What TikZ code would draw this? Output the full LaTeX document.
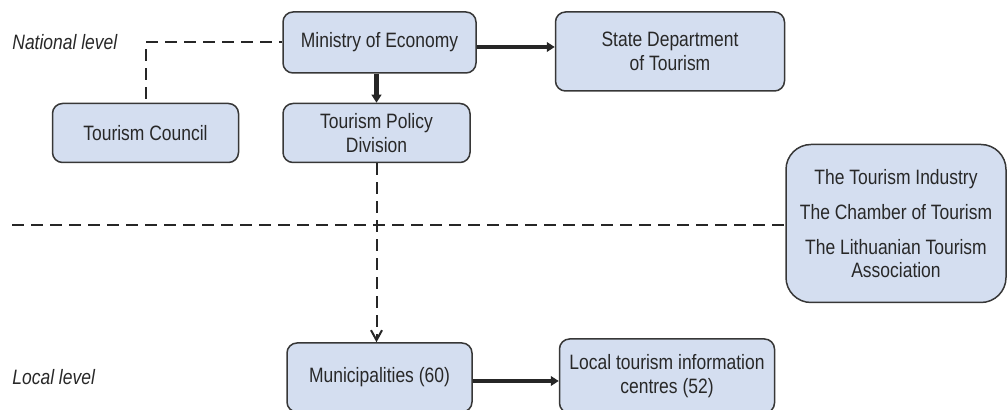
\documentclass[tikz,border=0pt]{standalone}
\usepackage{fontspec}
\setmainfont{Liberation Sans}[FakeStretch=0.84]
\usetikzlibrary{positioning,arrows.meta}
\definecolor{boxfill}{RGB}{212,222,240}
\definecolor{boxline}{RGB}{55,55,55}
\definecolor{txt}{RGB}{40,40,40}
\tikzset{
  unit/.style  ={draw=boxline, fill=boxfill, rounded corners=5pt, line width=0.75pt,
                 align=center, text=txt, inner sep=2pt,
                 font=\fontsize{10.4}{11.7}\selectfont},
  lvl/.style   ={font=\fontsize{10.4}{11.7}\selectfont\itshape, text=txt,
                 anchor=west, inner sep=0pt},
  fl/.style    ={-{Triangle[length=4pt,width=4.8pt]}, line width=2.25pt, draw=black!85},
  dl/.style    ={dash pattern=on 6pt off 3.5pt, line width=1pt, draw=black!85},
  darr/.style  ={dl, -{Straight Barb[length=5pt,width=5.5pt]}}
}

\begin{document}
\begin{tikzpicture}[x=0.5pt, y=-0.5pt]
  \useasboundingbox (0,0) rectangle (1007,410);

  % national level
  \node[unit, minimum width=96.5pt, minimum height=30.5pt] (ministry) at (379.5,42.5) {Ministry of Economy};
  \node[unit, minimum width=114.5pt, minimum height=39.5pt,
        right=39pt of ministry.north east, anchor=north west] (state) {State Department\\of Tourism};
  \node[unit, minimum width=93.5pt, minimum height=29.5pt,
        below=14.5pt of ministry.south west, anchor=north west] (policy) {Tourism Policy\\Division};
  \node[unit, minimum width=93pt, minimum height=29.5pt, left=21.5pt of policy] (council) {Tourism Council};
  \node[unit, minimum width=110pt, minimum height=79pt, rounded corners=12.5pt,
        below=26pt of state.south east, anchor=north west] (industry)
        {The Tourism Industry\\[5.8pt]The Chamber of Tourism\\[5.8pt]The Lithuanian Tourism\\Association};

  % local level
  \node[unit, minimum width=92.5pt, minimum height=34.5pt, below=89.5pt of policy, xshift=1.5pt] (munic) {Municipalities (60)};
  \node[unit, minimum width=107.5pt, minimum height=37pt, right=43pt of munic, yshift=0.75pt] (local)
        {Local tourism information\\centres (52)};

  \node[lvl] (natl) at (12,42) {National level};
  \node[lvl] (locl) at (12,377) {Local level};

  % links
  \coordinate (me) at ([yshift=-2.25pt]ministry.east);
  \coordinate (mu) at ([yshift=-1.75pt]munic.east);
  \coordinate (divL) at (12,225);
  \draw[fl] (me) -- (me -| state.west);
  \draw[fl] (policy.north |- ministry.south) -- (policy.north);
  \draw[fl] (mu) -- (mu -| local.west);
  \draw[dl, shorten <=2pt] (council.north) |- (ministry.west);
  \draw[dl] (divL) -- (divL -| industry.west);
  \draw[darr] (policy.south) -- (policy.south |- munic.north);
\end{tikzpicture}
\end{document}
